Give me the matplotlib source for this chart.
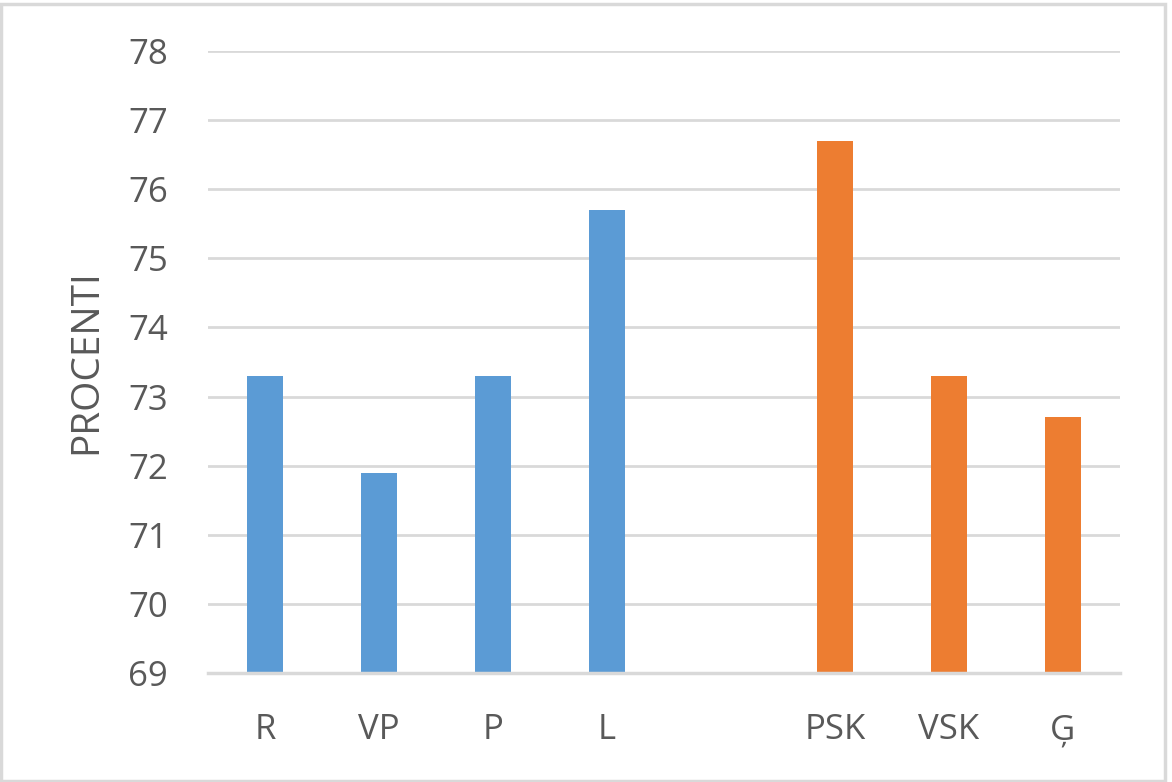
import matplotlib
matplotlib.use("Agg")
import matplotlib.pyplot as plt
from matplotlib.patches import Rectangle

categories = ["R", "VP", "P", "L", "", "PSK", "VSK", "Ģ"]
blue_labels = ["R", "VP", "P", "L"]
blue_values = [73.3, 71.9, 73.3, 75.7]
orange_labels = ["PSK", "VSK", "Ģ"]
orange_values = [76.7, 73.3, 72.7]
y_ticks = [69, 70, 71, 72, 73, 74, 75, 76, 77, 78]
y_label = "PROCENTI"

plt.rcParams['font.family'] = ['Open Sans', 'DejaVu Sans']

fig = plt.figure(figsize=(11.72, 7.82), dpi=100)
ax = fig.add_axes([208/1172, 1 - 673/782, 912/1172, 622/782])

pos = {c: i for i, c in enumerate(categories)}
w = 0.316
ax.bar([pos[c] for c in blue_labels], [v - 69 for v in blue_values], bottom=69,
       width=w, color="#5B9BD5", zorder=3)
ax.bar([pos[c] for c in orange_labels], [v - 69 for v in orange_values], bottom=69,
       width=w, color="#ED7D31", zorder=3)

ax.set_xlim(-0.5, len(categories) - 0.5)
ax.set_ylim(69, 78)
ax.set_yticks(y_ticks)
ax.set_xticks(range(len(categories)))
ax.set_xticklabels(categories)
ax.grid(axis="y", color="#D9D9D9", linewidth=2, zorder=0)
for s in ["top", "right", "left"]:
    ax.spines[s].set_visible(False)
ax.spines["bottom"].set_color("#D9D9D9")
ax.spines["bottom"].set_linewidth(2.5)
ax.spines["bottom"].set_zorder(4)
ax.tick_params(axis="both", length=0, labelsize=25, labelcolor="#595959")
ax.tick_params(axis="y", pad=29)
ax.tick_params(axis="x", pad=29)
ax.set_ylabel(y_label, fontsize=28, color="#595959", labelpad=16)

fig.patches.append(Rectangle((1/1172, 1/782), 1 - 8/1172, 1 - 5/782, transform=fig.transFigure,
                             fill=False, edgecolor="#D9D9D9", linewidth=2.5))

fig.savefig("out.png", dpi=100)
